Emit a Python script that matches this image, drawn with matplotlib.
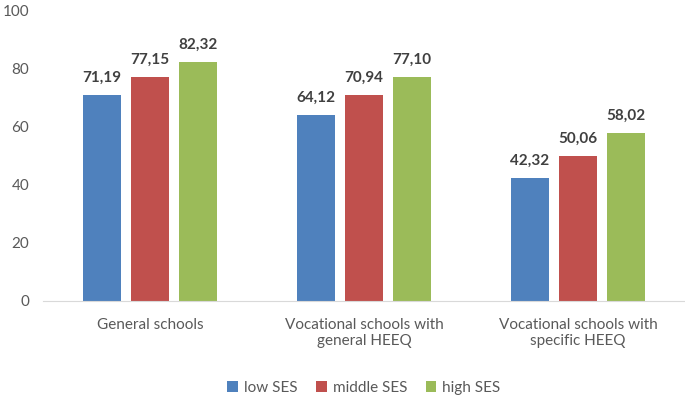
import matplotlib.pyplot as plt
import numpy as np

plt.rcParams["font.family"] = ["Lato", "DejaVu Sans"]

categories = ["General schools", "Vocational schools with\ngeneral HEEQ", "Vocational schools with\nspecific HEEQ"]
series = ["low SES", "middle SES", "high SES"]
low_ses = [71.19, 64.12, 42.32]
middle_ses = [77.15, 70.94, 50.06]
high_ses = [82.32, 77.10, 58.02]
colors = ["#4F81BD", "#C0504D", "#9BBB59"]

fig = plt.figure(figsize=(6.85, 3.95), dpi=100)
ax = fig.add_axes([43 / 685, 94 / 395, 642 / 685, 290 / 395])

x = np.arange(len(categories))
width = 0.177
step = 0.224
for i, (name, vals) in enumerate(zip(series, [low_ses, middle_ses, high_ses])):
    pos = x + (i - 1) * step
    bars = ax.bar(pos, vals, width, color=colors[i], label=name)
    for b, v in zip(bars, vals):
        ax.text(b.get_x() + b.get_width() / 2, v + 3.5, f"{v:.2f}".replace(".", ","),
                ha="center", va="bottom", fontsize=11, fontweight="bold", color="#404040")

ax.set_xlim(-0.5, 2.5)
ax.set_ylim(0, 100)
ax.set_yticks(range(0, 101, 20))
ax.set_xticks(x)
ax.set_xticklabels(categories)
ax.tick_params(axis="both", length=0, labelsize=11, colors="#595959")
ax.tick_params(axis="x", pad=12)
ax.tick_params(axis="y", pad=10)
for s in ["top", "right", "left"]:
    ax.spines[s].set_visible(False)
ax.spines["bottom"].set_color("#D9D9D9")

ax.legend(loc="center", bbox_to_anchor=(0.5, -0.30), ncol=3, frameon=False,
          fontsize=11, handlelength=0.7, handleheight=0.7, handletextpad=0.4,
          columnspacing=1.2, labelcolor="#595959")

fig.savefig("out.png", dpi=100)
